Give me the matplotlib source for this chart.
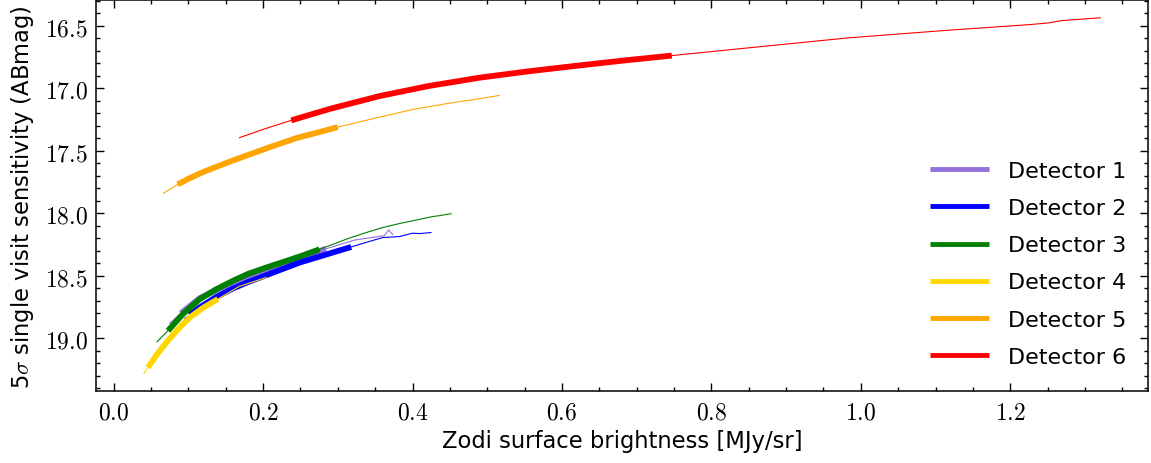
import numpy as np
import matplotlib
matplotlib.use('Agg')
import matplotlib.pyplot as plt
from matplotlib.ticker import MultipleLocator, FuncFormatter

# Curvas: brillo zodiacal (MJy/sr) vs sensibilidad 5 sigma (ABmag)
det1_x = [0.075, 0.09, 0.115, 0.16, 0.204, 0.25, 0.284, 0.3225, 0.345, 0.3623, 0.368, 0.3733]
det1_y = [18.88, 18.80, 18.68, 18.55, 18.45, 18.355, 18.285, 18.215, 18.195, 18.18, 18.134, 18.17]
det2_x = [0.095, 0.1016, 0.115, 0.1373, 0.1595, 0.18, 0.204, 0.2487, 0.293, 0.3178, 0.34,
          0.36, 0.3824, 0.40, 0.409, 0.4247]
det2_y = [18.84, 18.815, 18.754, 18.67, 18.602, 18.55, 18.496, 18.395, 18.315, 18.27, 18.23,
          18.195, 18.187, 18.16, 18.163, 18.155]
det3_x = [0.058, 0.0726, 0.0927, 0.115, 0.1373, 0.1595, 0.18, 0.204, 0.2487, 0.2754, 0.293,
          0.315, 0.338, 0.36, 0.3824, 0.4268, 0.436, 0.4515]
det3_y = [19.028, 18.94, 18.806, 18.688, 18.608, 18.541, 18.485, 18.435, 18.347, 18.289, 18.25,
          18.20, 18.155, 18.115, 18.083, 18.027, 18.02, 18.004]
det4_x = [0.0403, 0.0459, 0.058, 0.0705, 0.085, 0.1016, 0.12, 0.1394, 0.168, 0.204]
det4_y = [19.282, 19.233, 19.128, 19.033, 18.935, 18.834, 18.755, 18.687, 18.586, 18.514]
det5_x = [0.0668, 0.076, 0.0856, 0.10, 0.12, 0.15, 0.1774, 0.21, 0.2443, 0.27, 0.2999, 0.35,
          0.40, 0.45, 0.4893, 0.516]
det5_y = [17.84, 17.805, 17.77, 17.725, 17.67, 17.60, 17.54, 17.47, 17.40, 17.36, 17.312, 17.24,
          17.171, 17.12, 17.085, 17.059]
det6_x = [0.1684, 0.20, 0.2376, 0.29, 0.3556, 0.42, 0.4893, 0.555, 0.623, 0.685, 0.747, 0.850,
          0.984, 1.1176, 1.2246, 1.2513, 1.269, 1.3204]
det6_y = [17.396, 17.33, 17.258, 17.165, 17.064, 16.985, 16.917, 16.866, 16.819, 16.778, 16.74,
          16.678, 16.598, 16.537, 16.493, 16.479, 16.46, 16.438]

# Rango de cada detector que se dibuja con linea gruesa
rango_grueso = [(0.09, 0.284), (0.1016, 0.3178), (0.0726, 0.2754),
                (0.0459, 0.1394), (0.0856, 0.2999), (0.2376, 0.747)]

etiquetas = ['Detector 1', 'Detector 2', 'Detector 3', 'Detector 4', 'Detector 5', 'Detector 6']
colores = ['mediumpurple', 'blue', 'green', 'gold', 'orange', 'red']

xs = [det1_x, det2_x, det3_x, det4_x, det5_x, det6_x]
ys = [det1_y, det2_y, det3_y, det4_y, det5_y, det6_y]

plt.rcParams['font.family'] = ['DejaVu Sans']
plt.rcParams['mathtext.fontset'] = 'cm'

fig = plt.figure(figsize=(11.51, 4.64), dpi=100)
ax = fig.add_axes([0.0834, 0.1545, 0.914, 0.8433])

for i in range(0, 6):
    x = np.array(xs[i])
    y = np.array(ys[i])
    ax.plot(x, y, color=colores[i], linewidth=0.8)
    lo, hi = rango_grueso[i]
    m = (x >= lo - 1e-9) & (x <= hi + 1e-9)
    ax.plot(x[m], y[m], color=colores[i], linewidth=4.2, label=etiquetas[i],
            solid_capstyle='butt')

ax.invert_yaxis()
ax.xaxis.set_major_locator(MultipleLocator(0.2))
ax.xaxis.set_minor_locator(MultipleLocator(0.05))
ax.yaxis.set_major_locator(MultipleLocator(0.5))
ax.yaxis.set_minor_locator(MultipleLocator(0.1))
ax.xaxis.set_major_formatter(FuncFormatter(lambda v, p: r'$%.1f$' % v))
ax.yaxis.set_major_formatter(FuncFormatter(lambda v, p: r'$%.1f$' % v))
ax.tick_params(which='both', direction='in', top=True, right=True, labelsize=17)
ax.tick_params(which='major', length=6, width=1.0, pad=6)
ax.tick_params(which='minor', length=3.2, width=1.0)
for s in ax.spines.values():
    s.set_linewidth(1.1)

ax.set_xlabel('Zodi surface brightness [MJy/sr]', size=16.3, labelpad=4)
ax.set_ylabel(r'5$\sigma$ single visit sensitivity (ABmag)', size=16.3, labelpad=6)

leg = ax.legend(loc='lower right', bbox_to_anchor=(0.998, 0.012), frameon=False,
                fontsize=16, handlelength=2.66, handletextpad=0.85, labelspacing=0.77)
for h in leg.get_lines():
    h.set_linewidth(3.5)

fig.savefig('out.png', dpi=100)
